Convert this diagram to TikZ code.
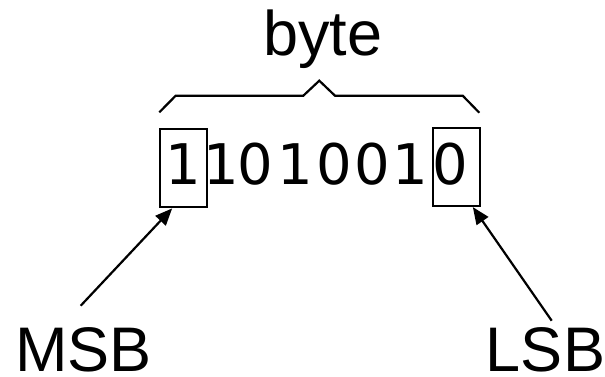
\documentclass[tikz,border=0pt]{standalone}
\usepackage{fontspec}
\setmainfont{Liberation Sans}
\newfontfamily\digitfont{DejaVu Sans}
\usetikzlibrary{arrows.meta}
\tikzset{
  lbl/.style={inner sep=0pt, anchor=base, text depth=0pt, font=\fontsize{63}{70}\selectfont},
  dig/.style={inner sep=0pt, anchor=base, font=\digitfont\fontsize{56}{60}\selectfont},
  bitbox/.style={draw, line width=2.2pt, minimum width=46.7pt, minimum height=78pt, inner sep=0pt},
  arr/.style={line width=2.2pt, -{Triangle[length=17pt,width=14pt]}},
  bracestyle/.style={line width=2.2pt, line join=miter}
}
\begin{document}
\begin{tikzpicture}[x=1pt,y=-1pt]
\useasboundingbox (0,0) rectangle (605,376);
% label texts
\node[lbl] (byte) at (323,55) {byte};
\node[lbl] (msb) at (83.5,371.7) {MSB};
\node[lbl] (lsb) at (545.5,371.7) {LSB};
% digits
\node[dig] (d1) at (183.3,184.3) {1};
\node[dig] (d2) at (221.7,184.3) {1};
\node[dig] (d3) at (255,184.3) {0};
\node[dig] (d4) at (295.8,184.3) {1};
\node[dig] (d5) at (334,184.3) {0};
\node[dig] (d6) at (372.3,184.3) {0};
\node[dig] (d7) at (410.7,184.3) {1};
\node[dig] (d8) at (450.7,184.3) {0};
% boxes
\node[bitbox] (msbbox) at (183.3,168.3) {};
\node[bitbox] (lsbbox) at (456.7,167) {};
% brace
\draw[bracestyle] (159.3,112.3) -- (175.7,95.7) -- (303.3,95.7) -- (319.3,80.7)
  -- (335,95.7) -- (462.7,95.7) -- (479.3,112.7);
% arrows
\coordinate (msbtail) at (80.7,305.7);
\coordinate (lsbtail) at (551.7,320.7);
\draw[arr] (msbtail) -- ([xshift=13.3pt]msbbox.south west);
\draw[arr] (lsbtail) -- ([xshift=-8.3pt]lsbbox.south east);
\end{tikzpicture}
\end{document}
